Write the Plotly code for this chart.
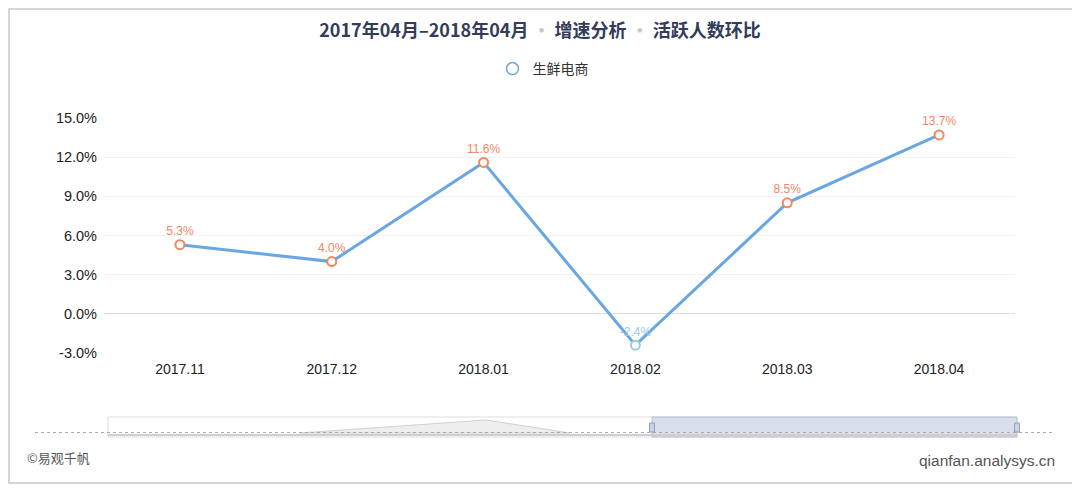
import plotly.graph_objects as go

categories = ["2017.11", "2017.12", "2018.01", "2018.02", "2018.03", "2018.04"]
values = [5.3, 4.0, 11.6, -2.4, 8.5, 13.7]
series_name = "生鲜电商"
y_ticks = [-3, 0, 3, 6, 9, 12, 15]

OFF = 8  # page body margin
W, H = 1080 - OFF, 488 - OFF
L, R, T, B = 104 - OFF, 65, 118 - OFF, 135
PW, PH = W - L - R, H - T - B


def px(x):
    return (x - OFF - L) / PW


def py(y):
    return (H - B - (y - OFF)) / PH


pos_col = "#f0875f"
neg_col = "#9ccadb"
line_col = "#6aa6e2"
mcols = [neg_col if v < 0 else pos_col for v in values]

fig = go.Figure()
fig.add_trace(go.Scatter(
    x=categories, y=values, mode="lines+markers+text",
    line=dict(color=line_col, width=3),
    marker=dict(symbol="circle", size=9, color="white",
                line=dict(color=mcols, width=2)),
    text=[f"{v:.1f}%" for v in values],
    textposition="top center",
    textfont=dict(color=mcols, size=12),
    showlegend=False, cliponaxis=False,
))
fig.add_trace(go.Scatter(
    x=[None], y=[None], mode="markers", name=series_name,
    marker=dict(symbol="circle-open", size=12, color=line_col,
                line=dict(width=1.5)),
))

shapes = []
# outer frame
shapes.append(dict(type="rect", xref="paper", yref="paper",
                   x0=px(9), x1=px(1075), y0=py(483), y1=py(9),
                   line=dict(color="#c8c8c8", width=1.5), layer="below"))
# data zoom frame
shapes.append(dict(type="rect", xref="paper", yref="paper",
                   x0=px(108), x1=px(1017), y0=py(437), y1=py(417),
                   line=dict(color="#dddddd", width=1), fillcolor="white"))
# shadow triangle
shapes.append(dict(type="path", xref="paper", yref="paper",
                   path=f"M {px(300)},{py(433)} L {px(486)},{py(420)} L {px(570)},{py(433)} Z",
                   line=dict(color="#d0d0d0", width=1), fillcolor="#eeeeee"))
# selected area
shapes.append(dict(type="rect", xref="paper", yref="paper",
                   x0=px(652), x1=px(1017), y0=py(437), y1=py(417),
                   line=dict(color="#b8c2d4", width=1), fillcolor="rgba(190,202,222,0.6)"))
# dotted baseline
shapes.append(dict(type="line", xref="paper", yref="paper",
                   x0=px(35), x1=px(1055), y0=py(432.5), y1=py(432.5),
                   line=dict(color="#aaaaaa", width=1, dash="dot")))
shapes.append(dict(type="line", xref="paper", yref="paper",
                   x0=px(108), x1=px(1017), y0=py(435), y1=py(435),
                   line=dict(color="#cfcfcf", width=2)))
# handles
for hx in (652, 1017):
    shapes.append(dict(type="rect", xref="paper", yref="paper",
                       x0=px(hx - 2.5), x1=px(hx + 2.5), y0=py(432), y1=py(423),
                       line=dict(color="#8fa0bb", width=1), fillcolor="#c9d2e2"))

font_fam = "Helvetica Neue, Liberation Sans, Noto Sans CJK SC, sans-serif"
cjk = "Noto Sans CJK SC, sans-serif"
dot = "<span style='color:#c8c8c8'> · </span>"
fig.update_layout(
    width=W, height=H,
    margin=dict(l=L, r=R, t=T, b=B),
    paper_bgcolor="white", plot_bgcolor="white",
    font=dict(family=font_fam, color="#222222", size=14),
    title=dict(text=f"2017年04月–2018年04月{dot}增速分析{dot}活跃人数环比",
               x=px(540), xanchor="center", xref="paper",
               y=1 - (31 - OFF) / H, yanchor="middle",
               font=dict(size=18, color="#333c5a", family=cjk, weight=600)),
    legend=dict(orientation="h", x=px(543), xanchor="center",
                y=py(69), yanchor="middle",
                font=dict(size=14, color="#333333", family=cjk),
                itemwidth=30),
    xaxis=dict(type="category", range=[-0.5, len(categories) - 0.5],
               showgrid=False, showline=False, ticks="",
               tickfont=dict(size=14, color="#222222"), ticklabelstandoff=6,
               zeroline=False),
    yaxis=dict(range=[-3, 15], tickvals=y_ticks,
               ticktext=[f"{v:.1f}%" for v in y_ticks],
               showgrid=True, gridcolor="#f2f2f2", gridwidth=1,
               zeroline=True, zerolinecolor="#dddddd", zerolinewidth=1,
               showline=False, ticks="", tickfont=dict(size=14.5, color="#222222"),
               ticklabelstandoff=6),
    shapes=shapes,
    annotations=[
        dict(text="©易观千帆", xref="paper", yref="paper", x=px(25), y=py(458),
             xanchor="left", yanchor="middle", showarrow=False,
             font=dict(size=13, color="#555555", family=cjk)),
        dict(text="qianfan.analysys.cn", xref="paper", yref="paper", x=px(1057), y=py(460),
             xanchor="right", yanchor="middle", showarrow=False,
             font=dict(size=15.5, color="#555555")),
    ],
)

fig.write_html("out.html")
